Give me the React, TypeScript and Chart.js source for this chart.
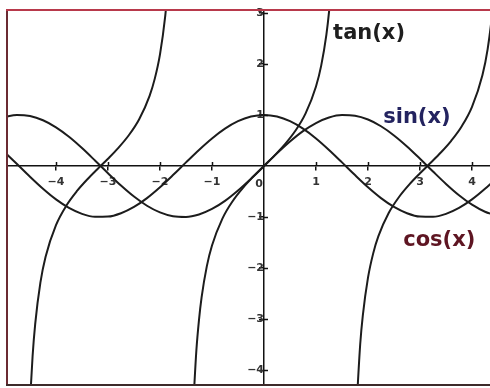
import React, { useEffect, useRef } from "react";
import { Chart, registerables } from "chart.js";

Chart.register(...registerables);

// sampled x positions for sin / cos
const xs = [-5, -4.75, -4.5, -4.25, -4, -3.75, -3.5, -3.25, -3, -2.75, -2.5, -2.25, -2, -1.75, -1.5, -1.25, -1, -0.75, -0.5, -0.25, 0, 0.25, 0.5, 0.75, 1, 1.25, 1.5, 1.75, 2, 2.25, 2.5, 2.75, 3, 3.25, 3.5, 3.75, 4, 4.25, 4.5];
const sinValues = [0.959, 0.999, 0.978, 0.895, 0.757, 0.572, 0.351, 0.108, -0.141, -0.382, -0.598, -0.778, -0.909, -0.984, -0.997, -0.949, -0.841, -0.682, -0.479, -0.247, 0, 0.247, 0.479, 0.682, 0.841, 0.949, 0.997, 0.984, 0.909, 0.778, 0.598, 0.382, 0.141, -0.108, -0.351, -0.572, -0.757, -0.895, -0.978];
const cosValues = [0.284, 0.038, -0.211, -0.446, -0.654, -0.821, -0.937, -0.994, -0.99, -0.924, -0.801, -0.628, -0.416, -0.178, 0.071, 0.315, 0.54, 0.732, 0.878, 0.969, 1, 0.969, 0.878, 0.732, 0.54, 0.315, 0.071, -0.178, -0.416, -0.628, -0.801, -0.924, -0.99, -0.994, -0.937, -0.821, -0.654, -0.446, -0.211];

// tan(x) branches
const tanAX = [-4.5, -4.45, -4.4, -4.3, -4.2, -4.0, -3.8, -3.6, -3.4, -3.2, -3.0, -2.8, -2.6, -2.4, -2.2, -2.1, -2.0, -1.9, -1.85];
const tanAY = [-4.637, -3.723, -3.096, -2.284, -1.776, -1.158, -0.774, -0.494, -0.264, -0.058, 0.143, 0.356, 0.602, 0.916, 1.374, 1.71, 2.185, 2.927, 3.488];
const tanBX = [-1.36, -1.3, -1.25, -1.2, -1.1, -1.0, -0.8, -0.6, -0.4, -0.2, 0, 0.2, 0.4, 0.6, 0.8, 1.0, 1.1, 1.2, 1.25, 1.3];
const tanBY = [-4.673, -3.602, -3.01, -2.572, -1.965, -1.557, -1.03, -0.684, -0.423, -0.203, 0, 0.203, 0.423, 0.684, 1.03, 1.557, 1.965, 2.572, 3.01, 3.602];
const tanCX = [1.78, 1.85, 1.9, 2.0, 2.1, 2.2, 2.4, 2.6, 2.8, 3.0, 3.2, 3.4, 3.6, 3.8, 4.0, 4.2, 4.3, 4.4, 4.45];
const tanCY = [-4.71, -3.488, -2.927, -2.185, -1.71, -1.374, -0.916, -0.602, -0.356, -0.143, 0.058, 0.264, 0.494, 0.774, 1.158, 1.776, 2.284, 3.096, 3.723];

// axis ticks
const xTickValues = [-4, -3, -2, -1, 1, 2, 3, 4];
const yTickValues = [-4, -3, -2, -1, 1, 2, 3];

// curve labels (anchored at data coordinates)
const curveLabels = ["tan(x)", "sin(x)", "cos(x)"];
const curveLabelX = [2.02, 2.94, 3.37];
const curveLabelY = [2.6, 0.94, -1.45];
const curveLabelColors = ["#1e1e1e", "#23235f", "#5e1522"];

const LINE = "#1c1c1c";
const TICK_FONT = { family: "'DejaVu Sans', Verdana, sans-serif", size: 11, weight: "bold" as const };
const fmt = (v: any) => (Number(v) < 0 ? "\u2212" + Math.abs(Number(v)) : String(v));

function pts(x: number[], y: number[]) {
  return x.map((v, i) => ({ x: v, y: y[i] }));
}

const overlay = {
  id: "overlay",
  afterDraw(chart: any) {
    const { ctx, chartArea, scales } = chart;
    const xs_ = scales.x;
    const ys_ = scales.y;
    const x0 = xs_.getPixelForValue(0);
    const y0 = ys_.getPixelForValue(0);
    ctx.save();
    // opposite halves of tick marks (cross ticks)
    ctx.strokeStyle = "#111";
    ctx.lineWidth = 1.5;
    ctx.beginPath();
    xTickValues.forEach((v) => {
      const p = Math.round(xs_.getPixelForValue(v)) + 0.5;
      ctx.moveTo(p, y0);
      ctx.lineTo(p, y0 - 4);
    });
    yTickValues.forEach((v) => {
      const p = Math.round(ys_.getPixelForValue(v)) + 0.5;
      ctx.moveTo(x0, p);
      ctx.lineTo(x0 + 4, p);
    });
    ctx.stroke();

    // origin label
    ctx.font = "bold 11px 'DejaVu Sans', Verdana, sans-serif";
    ctx.fillStyle = "#333";
    ctx.textAlign = "center";
    ctx.textBaseline = "middle";
    ctx.fillText("0", x0 - 5, y0 + 18);

    // curve labels
    ctx.font = "bold 21px 'DejaVu Sans', Verdana, sans-serif";
    curveLabels.forEach((t, i) => {
      ctx.fillStyle = curveLabelColors[i];
      ctx.fillText(t, xs_.getPixelForValue(curveLabelX[i]), ys_.getPixelForValue(curveLabelY[i]));
    });

    // frame
    ctx.lineWidth = 2;
    ctx.strokeStyle = "#6b2b33";
    ctx.beginPath();
    ctx.moveTo(chartArea.left, chartArea.top);
    ctx.lineTo(chartArea.left, chartArea.bottom);
    ctx.stroke();
    ctx.strokeStyle = "#3e2a2a";
    ctx.beginPath();
    ctx.moveTo(chartArea.left - 1, chartArea.bottom);
    ctx.lineTo(chartArea.right, chartArea.bottom);
    ctx.stroke();
    ctx.strokeStyle = "#b8394b";
    ctx.beginPath();
    ctx.moveTo(chartArea.left - 1, chartArea.top);
    ctx.lineTo(chartArea.right, chartArea.top);
    ctx.stroke();
    ctx.restore();
  },
};

export default function App() {
  const ref = useRef<HTMLCanvasElement>(null);
  useEffect(() => {
    if (!ref.current) return;
    const lineDs = (label: string, data: any[]) => ({
      label,
      data,
      showLine: true,
      borderColor: LINE,
      borderWidth: 2,
      pointRadius: 0,
      pointHoverRadius: 0,
      cubicInterpolationMode: "monotone" as const,
      fill: false,
    });
    const chart = new Chart(ref.current, {
      type: "scatter",
      data: {
        datasets: [
          lineDs("sin(x)", pts(xs, sinValues)),
          lineDs("cos(x)", pts(xs, cosValues)),
          lineDs("tan(x)", pts(tanAX, tanAY)),
          lineDs("tan(x) ", pts(tanBX, tanBY)),
          lineDs("tan(x)  ", pts(tanCX, tanCY)),
        ],
      },
      options: {
        responsive: false,
        animation: false,
        devicePixelRatio: 1,
        layout: { padding: { left: 7, top: 10, right: 0, bottom: 3 } },
        plugins: { legend: { display: false }, tooltip: { enabled: false } },
        scales: {
          x: {
            type: "linear",
            min: -4.942,
            max: 4.346,
            position: { y: 0 } as any,
            border: { display: true, color: "#111", width: 1.5 },
            grid: { drawOnChartArea: false, drawTicks: true, tickLength: 4, color: "#111", lineWidth: 1.5 },
            ticks: { font: TICK_FONT, color: "#333", padding: 6, autoSkip: false, maxRotation: 0, callback: fmt },
            afterBuildTicks: (s: any) => {
              s.ticks = xTickValues.map((v) => ({ value: v }));
            },
            afterFit: (s: any) => {
              s.paddingLeft = 0; s.paddingRight = 0; s.paddingTop = 0; s.paddingBottom = 0;
            },
          },
          y: {
            type: "linear",
            min: -4.286,
            max: 3.053,
            position: { x: 0 } as any,
            border: { display: true, color: "#111", width: 1.5 },
            grid: { drawOnChartArea: false, drawTicks: true, tickLength: 4, color: "#111", lineWidth: 1.5 },
            ticks: { font: TICK_FONT, color: "#333", padding: 3, autoSkip: false, callback: fmt },
            afterBuildTicks: (s: any) => {
              s.ticks = yTickValues.map((v) => ({ value: v }));
            },
            afterFit: (s: any) => {
              s.paddingLeft = 0; s.paddingRight = 0; s.paddingTop = 0; s.paddingBottom = 0;
            },
          },
        },
      },
      plugins: [overlay],
    });
    return () => chart.destroy();
  }, []);
  return (
    <div style={{ position: "fixed", left: 0, top: 0, width: 490, height: 388, background: "#fff" }}>
      <canvas ref={ref} width={490} height={388} style={{ display: "block" }} />
    </div>
  );
}
